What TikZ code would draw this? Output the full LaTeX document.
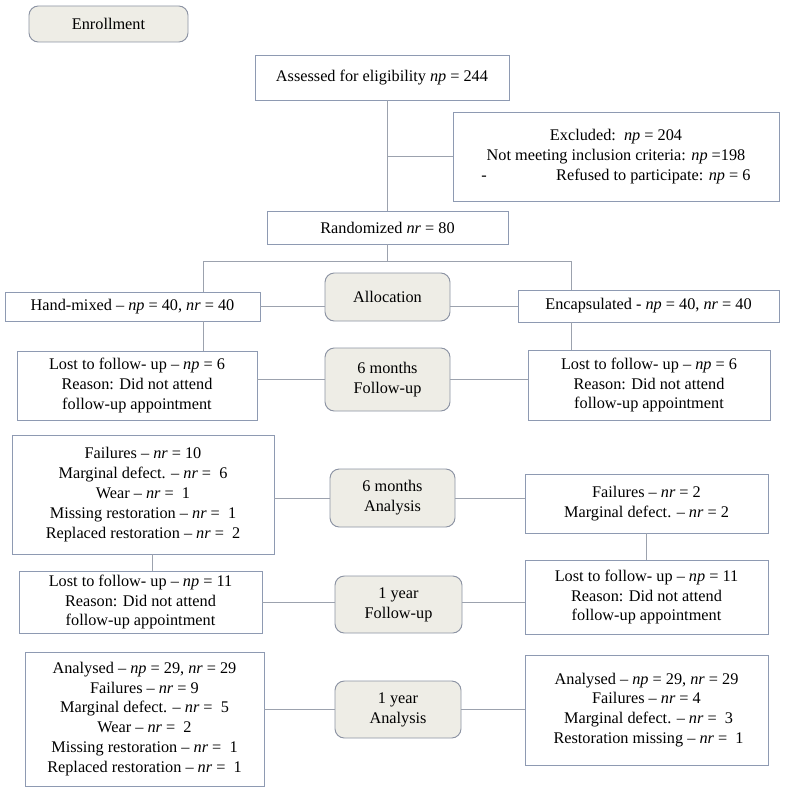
\documentclass[tikz,border=0pt]{standalone}
\usepackage{fontspec}
\setmainfont{Liberation Serif}
\begin{document}
\begin{tikzpicture}[x=0.75pt,y=-0.75pt,
  every node/.style={font=\fontsize{12.2}{14.9}\selectfont, inner sep=0pt, align=center, text=black},
  box/.style={draw=boxcol, line width=0.7pt, fill=white},
  stage/.style={draw=stagecol, line width=0.7pt, fill=stagefill, rounded corners=7pt},
  conn/.style={draw=linecol, line width=0.7pt},
  sz/.style 2 args={minimum width=#1*0.75pt, minimum height=#2*0.75pt}
]
\definecolor{boxcol}{HTML}{8E9AB2}
\definecolor{stagecol}{HTML}{8D94A4}
\definecolor{stagefill}{HTML}{EEEDE6}
\definecolor{linecol}{HTML}{9CA2AE}
\useasboundingbox[fill=white] (0,0) rectangle (786,792);

\node[stage, sz={159}{36}] (enroll) at (108.5,24) {Enrollment};
\node[box, sz={254}{45}] (assess) at (382,77.5) {Assessed for eligibility \textit{np} = 244};
\node[box, sz={326}{89}] (excl) at (616,156.5) {Excluded:\ \ \textit{np} = 204\\Not meeting inclusion criteria: \textit{np} =198\hspace*{19pt}\\-\hspace{52pt}Refused to participate: \textit{np} = 6};
\node[box, sz={241}{33}] (rand) at (387.5,227.5) {Randomized \textit{nr} = 80};

\node[box, sz={255}{29}] (hand) at (132.5,306.5) {Hand-mixed -- \textit{np} = 40, \textit{nr} = 40};
\node[stage, sz={125}{48}] (alloc) at (387.5,297) {Allocation};
\node[box, sz={261}{32}] (enc) at (648.5,306) {Encapsulated - \textit{np} = 40, \textit{nr} = 40};

\node[box, sz={240}{69}] (lostL1) at (137,385.5) {Lost to follow- up -- \textit{np} = 6\\Reason: Did not attend\\follow-up appointment};
\node[stage, sz={125}{63}] (fu6) at (387.5,379.5) {6 months\\Follow-up};
\node[box, sz={242}{70}] (lostR1) at (649,385) {Lost to follow- up -- \textit{np} = 6\\Reason: Did not attend\\follow-up appointment};

\node[box, sz={262}{119}] (anL6) at (143,494.5) {Failures -- \textit{nr} = 10\\Marginal defect. -- \textit{nr} =\ \ 6\\Wear -- \textit{nr} =\ \ 1\\Missing restoration -- \textit{nr} =\ \ 1\\Replaced restoration -- \textit{nr} =\ \ 2};
\node[stage, sz={125}{58}] (an6) at (392.5,498) {6 months\\Analysis};
\node[box, sz={243}{59}] (anR6) at (646.5,503.5) {Failures -- \textit{nr} = 2\\Marginal defect. -- \textit{nr} = 2};

\node[box, sz={243}{62}] (lostL2) at (140.5,602) {Lost to follow- up -- \textit{np} = 11\\Reason: Did not attend\\follow-up appointment};
\node[stage, sz={127}{57}] (fu1) at (398.5,604.5) {1 year\\Follow-up};
\node[box, sz={243}{74}] (lostR2) at (646.5,597) {Lost to follow- up -- \textit{np} = 11\\Reason: Did not attend\\follow-up appointment};

\node[box, sz={239}{134}] (anL1) at (144.5,719) {Analysed -- \textit{np} = 29, \textit{nr} = 29\\Failures -- \textit{nr} = 9\\Marginal defect. -- \textit{nr} =\ \ 5\\Wear -- \textit{nr} =\ \ 2\\Missing restoration -- \textit{nr} =\ \ 1\\Replaced restoration -- \textit{nr} =\ \ 1};
\node[stage, sz={126}{57}] (an1) at (398,709.5) {1 year\\Analysis};
\node[box, sz={243}{110}] (anR1) at (646.5,710) {Analysed -- \textit{np} = 29, \textit{nr} = 29\\Failures -- \textit{nr} = 4\\\ Marginal defect. -- \textit{nr} =\ \ 3\\\ Restoration missing -- \textit{nr} =\ \ 1};

\coordinate (bl) at (203,261);
\coordinate (brr) at (571,261);
\coordinate (cl) at (152,554);

\draw[conn] (rand.north |- assess.south) -- (rand.north);
\draw[conn] (rand.north |- excl.west) -- (excl.west);
\draw[conn] (rand.south) -- (rand.south |- bl);
\draw[conn] (bl |- hand.north) -- (bl) -- (brr) -- (brr |- enc.north);
\draw[conn] (hand.east) -- (hand.east -| alloc.west);
\draw[conn] (alloc.east |- enc.west) -- (enc.west);
\draw[conn] (bl |- hand.south) -- (bl |- lostL1.north);
\draw[conn] (brr |- enc.south) -- (brr |- lostR1.north);
\draw[conn] (lostL1.east |- fu6.west) -- (fu6.west);
\draw[conn] (fu6.east) -- (fu6.east -| lostR1.west);
\draw[conn] (anL6.east |- an6.west) -- (an6.west);
\draw[conn] (an6.east) -- (an6.east -| anR6.west);
\draw[conn] (anR6.south) -- (lostR2.north);
\draw[conn] (cl |- anL6.south) -- (cl |- lostL2.north);
\draw[conn] (lostL2.east) -- (lostL2.east -| fu1.west);
\draw[conn] (lostL2.east -| fu1.east) -- (lostL2.east -| lostR2.west);
\draw[conn] (anL1.east |- an1.west) -- (an1.west);
\draw[conn] (an1.east) -- (an1.east -| anR1.west);
\end{tikzpicture}
\end{document}
